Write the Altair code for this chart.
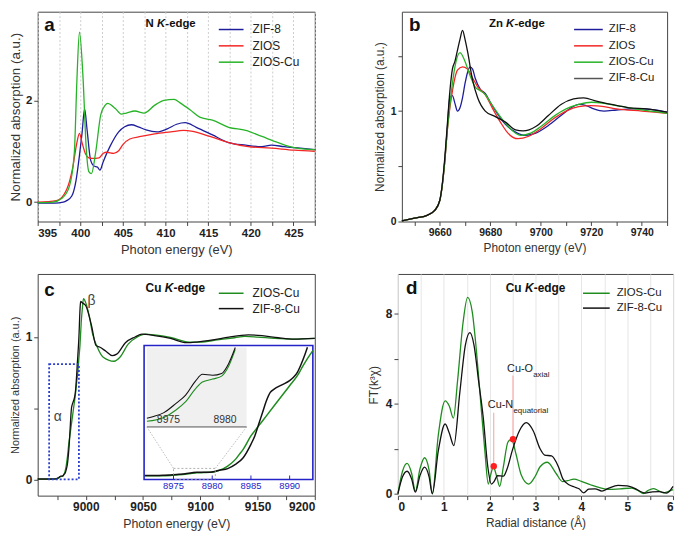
import altair as alt
import pandas as pd

FONT = "Liberation Sans"
C_BLUE = "#1d1d9c"
C_RED = "#f42525"
C_GREEN = "#27b327"
C_GREEN_D = "#1f8c1f"
C_BLACK = "#111111"
C_INSET = "#2323c8"

# ---------------- Panel a : N K-edge ----------------
a_names = ["ZIF-8", "ZIOS", "ZIOS-Cu"]
a_x_zif8 = [395, 397, 398, 398.4, 399, 399.5, 399.9, 400.2, 400.5, 400.8, 401.2, 401.6, 402, 402.3, 402.7,
            403.5, 404.5, 405.2, 406, 406.8, 407.7, 409, 410.2, 411.3, 412.3, 413.6, 415.5, 417.4, 419.4,
            421.3, 422.4, 423.9, 425.8, 427.5]
a_y_zif8 = [-0.02, -0.02, 0.0, 0.03, 0.12, 0.43, 0.92, 1.35, 1.83, 1.41, 0.83, 0.71, 0.69, 0.63, 0.8,
            1.1, 1.38, 1.48, 1.52, 1.48, 1.42, 1.38, 1.44, 1.53, 1.56, 1.47, 1.32, 1.17, 1.12,
            1.09, 1.12, 1.09, 1.06, 1.03]
a_x_zios = [395, 397.2, 398.4, 399.1, 399.6, 399.9, 400.2, 400.6, 401, 401.4, 402.2, 402.7, 403.1, 403.9,
            404.5, 405, 405.8, 407.1, 408.7, 410.6, 412.1, 413.2, 415.2, 417.4, 419.7, 422.4, 425.1, 427.5]
a_y_zios = [0, 0.03, 0.25, 0.67, 1.17, 1.35, 1.17, 0.95, 0.87, 0.86, 0.87, 0.96, 0.98, 0.96,
            1.01, 1.13, 1.24, 1.29, 1.34, 1.38, 1.41, 1.39, 1.29, 1.17, 1.09, 1.06, 1.02, 1.0]
a_x_zioscu = [395, 396.8, 397.8, 398.7, 399.3, 399.6, 399.9, 400.3, 400.7, 401.0, 401.3, 401.8, 402.4,
              402.9, 403.2, 404.1, 404.8, 405.4, 406.4, 407.5, 408.7, 409.8, 411, 411.7, 412.9, 414,
              415.5, 417.4, 419.4, 421.3, 423.2, 425.1, 427.5]
a_y_zioscu = [-0.01, 0, 0.07, 0.3, 0.98, 2.4, 3.34, 2.5, 1.04, 0.6, 0.56, 0.98, 1.72,
              1.9, 1.94, 1.84, 1.73, 1.75, 1.79, 1.75, 1.9, 2.0, 2.02, 1.95, 1.81, 1.67,
              1.61, 1.47, 1.41, 1.29, 1.17, 1.07, 1.03]
a_xticks = [395, 397.5, 400, 402.5, 405, 407.5, 410, 412.5, 415, 417.5, 420, 422.5, 425, 427.5]
a_yticks = [0, 2]

# ---------------- Panel b : Zn K-edge ----------------
b_names = ["ZIF-8", "ZIOS", "ZIOS-Cu", "ZIF-8-Cu"]
b_x_zif8 = [9645, 9650, 9655, 9658, 9660, 9661, 9662, 9663, 9664, 9665, 9666, 9667, 9668, 9669, 9670,
            9671, 9672, 9673, 9674, 9676, 9678, 9680, 9683, 9686, 9690, 9694, 9698, 9703, 9708, 9712,
            9715, 9718, 9721, 9725, 9730, 9736, 9740, 9745, 9750]
b_y_zif8 = [0.005, 0.03, 0.056, 0.1, 0.19, 0.33, 0.55, 0.85, 1.12, 1.14, 1.07, 1.0, 1.03, 1.12, 1.25,
            1.35, 1.4, 1.38, 1.3, 1.2, 1.16, 1.08, 0.97, 0.88, 0.81, 0.78, 0.8, 0.87, 0.96, 1.03,
            1.06, 1.05, 1.02, 1.0, 1.01, 1.02, 1.02, 1.01, 0.99]
b_x_zios = [9645, 9650, 9655, 9658, 9660, 9661, 9662, 9663, 9664, 9665, 9666, 9667, 9669, 9671, 9673,
            9675, 9678, 9681, 9684, 9687, 9691, 9695, 9700, 9705, 9710, 9715, 9720, 9725, 9730, 9740, 9750]
b_y_zios = [0.005, 0.03, 0.056, 0.1, 0.19, 0.33, 0.55, 0.83, 1.03, 1.18, 1.3, 1.37, 1.4, 1.38, 1.3,
            1.22, 1.15, 1.02, 0.9, 0.8, 0.75, 0.77, 0.84, 0.93, 1.0, 1.04, 1.05, 1.04, 1.02, 1.0, 0.98]
b_x_zioscu = [9645, 9650, 9655, 9658, 9660, 9661, 9662, 9663, 9664, 9665, 9666, 9668, 9670, 9672, 9674,
              9676, 9678, 9680, 9683, 9686, 9690, 9692, 9696, 9700, 9705, 9710, 9715, 9720, 9725, 9730,
              9735, 9740, 9750]
b_y_zioscu = [0.005, 0.03, 0.056, 0.1, 0.19, 0.33, 0.55, 0.83, 1.05, 1.25, 1.4, 1.53, 1.45, 1.32, 1.22,
              1.185, 1.15, 1.08, 0.98, 0.89, 0.8, 0.78, 0.8, 0.86, 0.95, 1.02, 1.06, 1.08, 1.07, 1.05,
              1.03, 1.01, 0.98]
b_x_zif8cu = [9645, 9650, 9655, 9658, 9660, 9661, 9662, 9663, 9664, 9665, 9666, 9667, 9668, 9669, 9670,
              9671, 9673, 9675, 9678, 9682, 9686, 9690, 9693, 9698, 9703, 9708, 9713, 9717, 9722, 9728,
              9735, 9742, 9750]
b_y_zif8cu = [0.005, 0.03, 0.056, 0.1, 0.19, 0.34, 0.58, 0.88, 1.18, 1.38, 1.45, 1.55, 1.65, 1.73, 1.65,
              1.54, 1.28, 1.12, 1.0, 0.95, 0.9, 0.83, 0.82, 0.86, 0.96, 1.06, 1.11, 1.12, 1.09, 1.06,
              1.03, 1.02, 0.99]
b_xticks = [9650, 9660, 9670, 9680, 9690, 9700, 9710, 9720, 9730, 9740, 9750]
b_yticks = [0, 0.5, 1, 1.5]

# ---------------- Panel c : Cu K-edge XANES ----------------
c_names = ["ZIOS-Cu", "ZIF-8-Cu"]
c_x_zioscu = [8958, 8965, 8971.3, 8973.1, 8974.6, 8975.7, 8976.5, 8977.4, 8978, 8978.9, 8979.7, 8980.3,
              8980.9, 8982, 8983, 8983.5, 8984, 8985, 8986, 8987, 8988, 8989, 8990, 8991, 8991.5, 8992,
              8993, 8994, 8995, 8996, 8997, 8998, 9000, 9003, 9006, 9010, 9015, 9024.7, 9030, 9037,
              9045, 9052, 9060, 9075, 9090, 9100, 9115, 9130, 9139, 9150, 9165, 9180, 9200]
c_y_zioscu = [0.002, 0.002, 0.002, 0.0025, 0.0042, 0.0076, 0.011, 0.0169, 0.0198, 0.0211, 0.0224, 0.0266,
              0.0342, 0.06, 0.10, 0.13, 0.16, 0.24, 0.30, 0.36, 0.42, 0.48, 0.54, 0.60, 0.64, 0.68,
              0.75, 0.85, 0.95, 1.1, 1.2, 1.27, 1.24, 1.15, 1.02, 0.93, 0.86, 0.83, 0.86, 0.95,
              1.0, 1.02, 1.015, 0.995, 0.965, 0.965, 0.98, 0.995, 1.005, 1.0, 0.99, 0.985, 0.99]
c_x_zif8cu = [8958, 8965, 8971.3, 8973.1, 8973.7, 8974.6, 8975.7, 8976.5, 8977.4, 8978, 8978.9, 8979.7,
              8980.3, 8980.9, 8982, 8983, 8984, 8985, 8985.5, 8986, 8986.5, 8987, 8987.5, 8988, 8989,
              8990, 8990.5, 8991, 8991.5, 8992, 8992.3, 8992.5, 8993, 8994, 8995, 8995.5, 8997, 9000,
              9005, 9009, 9012, 9017.6, 9023, 9027, 9034.6, 9043, 9049, 9060, 9074, 9088, 9097, 9111,
              9125, 9142, 9154, 9168, 9182, 9200]
c_y_zif8cu = [0.003, 0.003, 0.003, 0.0038, 0.0046, 0.0063, 0.0105, 0.0139, 0.0203, 0.0232, 0.0228, 0.0236,
              0.0278, 0.035, 0.045, 0.07, 0.11, 0.19, 0.24, 0.31, 0.38, 0.45, 0.50, 0.52, 0.545,
              0.57, 0.59, 0.62, 0.67, 0.73, 0.77, 0.80, 0.86, 1.0, 1.2, 1.25, 1.24, 1.22,
              1.08, 0.94, 0.93, 0.9, 0.87, 0.88, 0.96, 1.0, 1.02, 1.01, 0.99, 0.96, 0.965, 0.98,
              1.0, 1.015, 1.01, 0.995, 0.985, 0.99]
c_xticks = [8975, 9000, 9025, 9050, 9075, 9100, 9125, 9150, 9175, 9200]
c_yticks = [0, 0.5, 1]
c_alpha_box = [8968, 8994, 0, 0.81]
c_inset_ticks = [8975, 8980, 8985, 8990]
c_zoom_ticks = [8975, 8980]
c_zoom_box = [8975, 8980.4, -0.02, 0.046]

# ---------------- Panel d : FT-EXAFS ----------------
d_names = ["ZIOS-Cu", "ZIF-8-Cu"]
d_r_zioscu = [0.0, 0.1, 0.2, 0.3, 0.38, 0.48, 0.58, 0.68, 0.75, 0.88, 1.03, 1.12, 1.21, 1.3, 1.42, 1.52,
              1.62, 1.71, 1.8, 1.9, 1.97, 2.03, 2.08, 2.15, 2.22, 2.3, 2.4, 2.48, 2.57, 2.69, 2.85, 3.0,
              3.1, 3.26, 3.45, 3.59, 3.7, 3.84, 4.0, 4.2, 4.4, 4.6, 4.85, 5.1, 5.25, 5.35, 5.45, 5.57,
              5.68, 5.79, 5.9, 6.0]
d_v_zioscu = [0.0, 1.0, 1.35, 0.9, 0.11, 1.1, 1.6, 1.05, 0.0, 2.6, 4.13, 3.9, 3.36, 5.0, 7.6, 8.73,
              8.1, 6.4, 4.2, 1.8, 0.43, 0.9, 1.2, 0.8, 0.33, 1.2, 2.3, 2.42, 1.8, 0.83, 0.43, 0.8,
              1.2, 1.4, 0.9, 0.54, 0.58, 0.65, 0.55, 0.4, 0.27, 0.19, 0.22, 0.25, 0.12, 0.01, 0.14, 0.23,
              0.14, 0.04, 0.1, 0.18]
d_r_zif8cu = [0.0, 0.1, 0.2, 0.3, 0.38, 0.48, 0.58, 0.68, 0.75, 0.88, 1.03, 1.12, 1.22, 1.35, 1.47, 1.57,
              1.66, 1.76, 1.86, 1.96, 2.04, 2.1, 2.17, 2.3, 2.38, 2.5, 2.65, 2.8, 2.95, 3.1, 3.2, 3.35,
              3.5, 3.6, 3.73, 3.85, 3.95, 4.05, 4.16, 4.3, 4.45, 4.6, 4.8, 5.0, 5.15, 5.39, 5.55, 5.7,
              5.86, 6.0]
d_v_zif8cu = [0.0, 0.75, 1.0, 0.65, 0.07, 0.8, 1.18, 0.75, 0.0, 1.9, 3.1, 2.7, 2.14, 4.5, 6.6, 7.16,
              6.6, 5.0, 3.4, 1.2, 0.43, 0.55, 0.8, 0.78, 1.1, 1.96, 2.8, 3.16, 2.8, 2.0, 1.72, 1.68,
              1.2, 0.65, 0.4, 0.3, 0.22, 0.04, 0.2, 0.22, 0.12, 0.25, 0.37, 0.35, 0.25, 0.03, 0.08, 0.09,
              0.03, 0.33]
d_xticks = [0, 0.5, 1, 1.5, 2, 2.5, 3, 3.5, 4, 4.5, 5, 5.5, 6]
d_yticks = [0, 2, 4, 6, 8]
d_dot_r = [2.09, 2.51]
d_dot_v = [1.22, 2.42]
d_rule_top = [3.6, 5.25]
d_lab_main = ["Cu-N", "Cu-O"]
d_lab_main_r = [1.96, 2.38]
d_lab_main_v = [3.95, 5.55]
d_lab_sub = ["equatorial", "axial"]
d_lab_sub_r = [2.52, 2.95]
d_lab_sub_v = [3.68, 5.28]

ONE = pd.DataFrame({"k": [0]})


def sc(dom, rng=None):
    if rng is None:
        return alt.Scale(domain=dom, nice=False, zero=False)
    return alt.Scale(domain=dom, range=rng, nice=False, zero=False)


def lab_expr(step):
    return f"datum.value % {step} == 0 ? format(datum.value, 'd') : ''"


def line(xv, yv, color, xs, ys, xax=None, yax=None, w=1.3):
    d = pd.DataFrame({"x": xv, "y": yv})
    return alt.Chart(d).mark_line(color=color, strokeWidth=w, interpolate="monotone").encode(
        x=alt.X("x:Q", scale=xs, axis=xax), y=alt.Y("y:Q", scale=ys, axis=yax))


def ptext(txt, x, y, size, weight="normal", style="normal", color="#111", align="left"):
    return alt.Chart(ONE).mark_text(text=txt, fontSize=size, fontWeight=weight, fontStyle=style,
                                    color=color, align=align, baseline="middle", font=FONT).encode(
        x=alt.value(x), y=alt.value(y))


def edge_title(prefix, x0, y, size=12):
    em = {"N": 0.722, "Z": 0.611, "n": 0.611, "C": 0.722, "u": 0.611, " ": 0.278}
    pw = sum(em[c] for c in prefix + " ") * size
    kw = 0.74 * size
    return [ptext(prefix, x0, y, size, "bold"),
            ptext("K", x0 + pw, y, size, "bold", "italic"),
            ptext("-edge", x0 + pw + kw, y, size, "bold")]


def legend(names, colors, x0, x1, y0, dy, size, gap):
    out = []
    for i, (n, c) in enumerate(zip(names, colors)):
        yy = y0 + i * dy
        out.append(alt.Chart(ONE).mark_rule(color=c, strokeWidth=1.5).encode(
            x=alt.value(x0), x2=alt.value(x1), y=alt.value(yy)))
        out.append(ptext(n, x1 + gap, yy, size, color="#222"))
    return out


def seg(x, y, x2, y2, color, w=0.8, dash=None):
    m = dict(color=color, strokeWidth=w)
    if dash:
        m["strokeDash"] = dash
    return alt.Chart(ONE).mark_rule(**m).encode(
        x=alt.value(x), y=alt.value(y), x2=alt.value(x2), y2=alt.value(y2))


def clip_pts(xv, yv, x0, x1, ymax):
    pts = [(a, b) for a, b in zip(xv, yv) if x0 <= a <= x1 and b <= ymax]
    return [p[0] for p in pts], [p[1] for p in pts]


# ======================= Panel a =======================
Wa, Ha = 280, 212
a_xs = sc([395, 427.5])
a_ys = sc([-0.38, 3.74])
a_xax = alt.Axis(title="Photon energy (eV)", values=a_xticks, labelExpr=lab_expr(5),
                 grid=True, gridDash=[2, 2], gridColor="#cccccc",
                 labelFontSize=11.5, titleFontSize=13, titlePadding=5)
a_yax = alt.Axis(title="Normalized absorption (a.u.)", values=a_yticks, labelExpr=lab_expr(1),
                 labelFontSize=11.5, titleFontSize=13.5, titlePadding=3)
a_layers = [
    line(a_x_zif8, a_y_zif8, C_BLUE, a_xs, a_ys, a_xax, a_yax),
    line(a_x_zios, a_y_zios, C_RED, a_xs, a_ys, a_xax, a_yax),
    line(a_x_zioscu, a_y_zioscu, C_GREEN, a_xs, a_ys, a_xax, a_yax),
    ptext("a", 12, 13, 19, "bold", align="center"),
] + edge_title("N", 109, 12, 11.5) + legend(a_names, [C_BLUE, C_RED, C_GREEN], 183, 208, 18, 16.5, 12, 9)
pa = alt.layer(*a_layers).properties(width=Wa, height=Ha)

# ======================= Panel b =======================
Wb, Hb = 268, 212
b_xs = sc([9645, 9750])
b_ys = sc([0, 1.9])
b_xax = alt.Axis(title="Photon energy (eV)", values=b_xticks, labelExpr=lab_expr(20),
                 labelFontSize=10.5, titleFontSize=12, titlePadding=5)
b_yax = alt.Axis(title="Normalized absorption (a.u.)", values=b_yticks, labelExpr=lab_expr(1),
                 labelFontSize=10.5, titleFontSize=12, titlePadding=4)
b_layers = [
    line(b_x_zif8, b_y_zif8, C_BLUE, b_xs, b_ys, b_xax, b_yax),
    line(b_x_zios, b_y_zios, C_RED, b_xs, b_ys, b_xax, b_yax),
    line(b_x_zioscu, b_y_zioscu, C_GREEN, b_xs, b_ys, b_xax, b_yax),
    line(b_x_zif8cu, b_y_zif8cu, C_BLACK, b_xs, b_ys, b_xax, b_yax),
    ptext("b", 13, 13, 19, "bold", align="center"),
] + edge_title("Zn", 88, 12, 11.5) + legend(b_names, [C_BLUE, C_RED, C_GREEN, "#555555"], 174, 203, 18, 16.5, 11.5, 6)
pb = alt.layer(*b_layers).properties(width=Wb, height=Hb)

# ======================= Panel c =======================
Wc, Hc = 280, 224
c_xs = sc([8958, 9200])
c_ys = sc([-0.114, 1.443])
c_xax = alt.Axis(title="Photon energy (eV)", values=c_xticks, labelExpr=lab_expr(50),
                 labelFontSize=12, titleFontSize=12.5, titlePadding=5)
c_yax = alt.Axis(title="Normalized absorption (a.u.)", values=c_yticks, labelExpr=lab_expr(1),
                 labelFontSize=12, titleFontSize=11, titlePadding=5)

ix0, ix1, iy0, iy1 = 0.384 * Wc, 0.993 * Wc, 0.323 * Hc, 0.927 * Hc
gx0, gx1, gy0, gy1 = 0.394 * Wc, 0.754 * Wc, 0.332 * Hc, 0.69 * Hc
in_dom_x, in_dom_y = [8971.2, 8993], [-0.02, 0.78]
g_dom_x, g_dom_y = [8973.1, 8981.9], [0, 0.035]
in_xs = sc(in_dom_x, [ix0, ix1])
in_ys = sc(in_dom_y, [iy1, iy0])
g_xs = sc(g_dom_x, [gx0, gx1])
g_ys = sc(g_dom_y, [gy1, gy0])


def px_in(v):
    return ix0 + (v - in_dom_x[0]) / (in_dom_x[1] - in_dom_x[0]) * (ix1 - ix0)


def py_in(v):
    return iy1 - (v - in_dom_y[0]) / (in_dom_y[1] - in_dom_y[0]) * (iy1 - iy0)


alpha_df = pd.DataFrame({"x": [c_alpha_box[0]], "x2": [c_alpha_box[1]],
                         "y": [c_alpha_box[2]], "y2": [c_alpha_box[3]]})
zoom_df = pd.DataFrame({"x": [c_zoom_box[0]], "x2": [c_zoom_box[1]],
                        "y": [c_zoom_box[2]], "y2": [c_zoom_box[3]]})
greek_df = pd.DataFrame({"x": [8975.5, 9005], "y": [0.44, 1.25], "t": ["α", "β"]})

c_layers = [
    line(c_x_zioscu, c_y_zioscu, C_GREEN_D, c_xs, c_ys, c_xax, c_yax),
    line(c_x_zif8cu, c_y_zif8cu, C_BLACK, c_xs, c_ys),
    alt.Chart(alpha_df).mark_rect(fillOpacity=0, stroke="#2a3fd0", strokeDash=[2, 2], strokeWidth=1.8).encode(
        x=alt.X("x:Q", scale=c_xs, axis=None), x2="x2",
        y=alt.Y("y:Q", scale=c_ys, axis=None), y2="y2"),
    alt.Chart(greek_df).mark_text(fontSize=14, color="#444", font=FONT).encode(
        x=alt.X("x:Q", scale=c_xs, axis=None), y=alt.Y("y:Q", scale=c_ys, axis=None), text="t:N"),
    ptext("c", 12, 16, 19, "bold", align="center"),
] + edge_title("Cu", 109, 14, 12) + legend(c_names, [C_GREEN_D, C_BLACK], 183, 208, 19.5, 15.5, 12, 9)

# inset (blue framed)
c_layers.append(alt.Chart(ONE).mark_rect(fill="white", stroke=C_INSET, strokeWidth=1.6).encode(
    x=alt.value(ix0), x2=alt.value(ix1), y=alt.value(iy0), y2=alt.value(iy1)))
for xv, yv, col in [(c_x_zioscu, c_y_zioscu, C_GREEN_D), (c_x_zif8cu, c_y_zif8cu, C_BLACK)]:
    cx, cy = clip_pts(xv, yv, in_dom_x[0], in_dom_x[1], in_dom_y[1])
    c_layers.append(line(cx, cy, col, in_xs, in_ys, w=1.5))
c_layers.append(alt.Chart(zoom_df).mark_rect(fillOpacity=0, stroke="#999999", strokeDash=[2, 2],
                                             strokeWidth=0.8).encode(
    x=alt.X("x:Q", scale=in_xs, axis=None), x2="x2",
    y=alt.Y("y:Q", scale=in_ys, axis=None), y2="y2"))
it_df = pd.DataFrame({"v": c_inset_ticks})
c_layers.append(alt.Chart(it_df).mark_rule(color=C_INSET, strokeWidth=1).encode(
    x=alt.X("v:Q", scale=in_xs, axis=None), y=alt.value(iy1 - 4), y2=alt.value(iy1)))
c_layers.append(alt.Chart(it_df).mark_text(color=C_INSET, fontSize=9.5, font=FONT, baseline="middle").encode(
    x=alt.X("v:Q", scale=in_xs, axis=None), y=alt.value(iy1 + 7), text=alt.Text("v:Q", format="d")))
# connectors
c_layers.append(seg(gx0, gy1, px_in(c_zoom_box[0]), py_in(c_zoom_box[3]), "#aaaaaa", 0.8, [1.5, 1.5]))
c_layers.append(seg(gx1, gy1, px_in(c_zoom_box[1]), py_in(c_zoom_box[3]), "#aaaaaa", 0.8, [1.5, 1.5]))
# gray zoom inset
c_layers.append(alt.Chart(ONE).mark_rect(fill="#f0f0f0").encode(
    x=alt.value(gx0), x2=alt.value(gx1), y=alt.value(gy0), y2=alt.value(gy1)))
c_layers.append(seg(gx0, gy1, gx1, gy1, "#999999", 1.8))
for xv, yv, col in [(c_x_zioscu, c_y_zioscu, C_GREEN_D), (c_x_zif8cu, c_y_zif8cu, C_BLACK)]:
    cx, cy = clip_pts(xv, yv, g_dom_x[0], g_dom_x[1], g_dom_y[1] + 0.0002)
    c_layers.append(line(cx, cy, col, g_xs, g_ys, w=1.1))
gt_df = pd.DataFrame({"v": c_zoom_ticks})
c_layers.append(alt.Chart(gt_df).mark_text(color="#333", fontSize=10.5, font=FONT, baseline="middle").encode(
    x=alt.X("v:Q", scale=g_xs, axis=None), y=alt.value(gy1 - 7), text=alt.Text("v:Q", format="d")))

pc = alt.layer(*c_layers).resolve_scale(x="independent", y="independent").properties(width=Wc, height=Hc)

# ======================= Panel d =======================
Wd, Hd = 278, 224
d_xs = sc([0, 6])
d_ys = sc([-0.085, 9.77])
d_xax = alt.Axis(title="Radial distance (Å)", values=d_xticks, labelExpr=lab_expr(1),
                 grid=True, gridColor="#e6e6e6", labelFontSize=12, titleFontSize=12, titlePadding=5)
d_yax = alt.Axis(title="FT(k³χ)", values=d_yticks, labelExpr=lab_expr(4),
                 labelFontSize=12, titleFontSize=12, titlePadding=5)
ann_df = pd.DataFrame({"r": d_dot_r, "v": d_dot_v, "top": d_rule_top})
lab_main_df = pd.DataFrame({"r": d_lab_main_r, "v": d_lab_main_v, "t": d_lab_main})
lab_sub_df = pd.DataFrame({"r": d_lab_sub_r, "v": d_lab_sub_v, "t": d_lab_sub})
d_layers = [
    line(d_r_zioscu, d_v_zioscu, C_GREEN_D, d_xs, d_ys, d_xax, d_yax),
    line(d_r_zif8cu, d_v_zif8cu, C_BLACK, d_xs, d_ys, d_xax, d_yax),
    alt.Chart(ann_df).mark_rule(color="#f5a0a0", strokeWidth=1).encode(
        x=alt.X("r:Q", scale=d_xs, axis=d_xax), y=alt.Y("v:Q", scale=d_ys, axis=d_yax), y2="top"),
    alt.Chart(ann_df).mark_circle(color="#ff1f1f", size=42, opacity=1).encode(
        x=alt.X("r:Q", scale=d_xs, axis=d_xax), y=alt.Y("v:Q", scale=d_ys, axis=d_yax)),
    alt.Chart(lab_main_df).mark_text(fontSize=11, color="#222", align="left", baseline="middle", font=FONT).encode(
        x=alt.X("r:Q", scale=d_xs, axis=d_xax), y=alt.Y("v:Q", scale=d_ys, axis=d_yax), text="t:N"),
    alt.Chart(lab_sub_df).mark_text(fontSize=8, color="#222", align="left", baseline="middle", font=FONT).encode(
        x=alt.X("r:Q", scale=d_xs, axis=d_xax), y=alt.Y("v:Q", scale=d_ys, axis=d_yax), text="t:N"),
    ptext("d", 14, 14, 19, "bold", align="center"),
] + edge_title("Cu", 109, 14, 12) + legend(d_names, [C_GREEN_D, C_BLACK], 187, 214, 19.5, 15, 11.5, 7)
pd_ = alt.layer(*d_layers).properties(width=Wd, height=Hd)

row1 = alt.hconcat(pa, pb, spacing=54)
row2 = alt.hconcat(pc, pd_, spacing=48)
chart = alt.vconcat(row1, row2, spacing=16).properties(padding=0).configure(font=FONT).configure_view(
    stroke="#444444", strokeWidth=1).configure_axis(
    domain=False, labelFont=FONT, titleFont=FONT, labelColor="#222222", titleColor="#333333",
    titleFontWeight="normal", labelFontWeight="bold", tickColor="#444444", tickSize=4,
    labelPadding=2, grid=False, labelOverlap=False)

chart.save("out.html", embed_options={"renderer": "svg", "actions": False})
